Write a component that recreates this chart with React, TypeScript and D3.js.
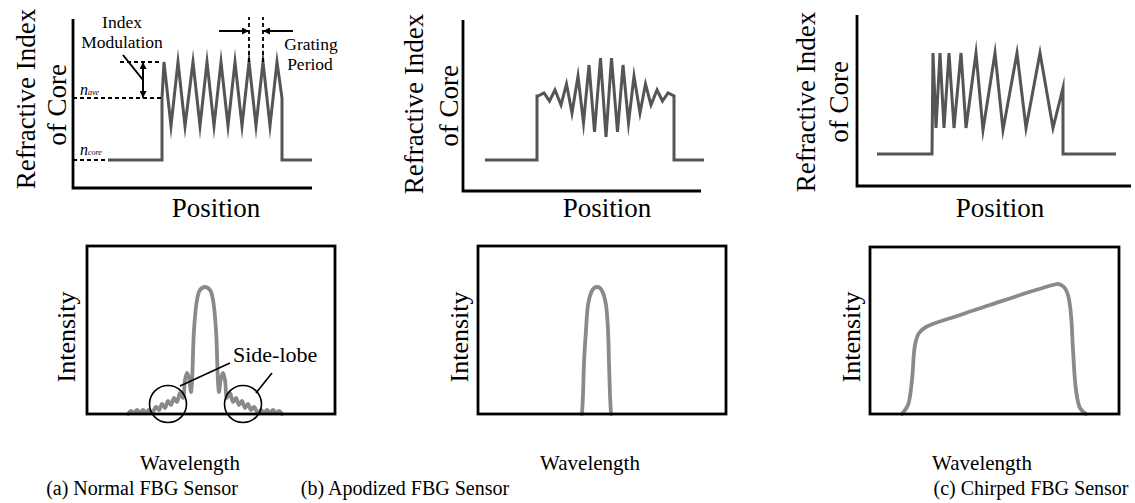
import React from 'react';
import * as d3 from 'd3';

// ---- top row: refractive index of core vs position ----
// (a) uniform grating
const normalPos = [35, 89, 89, 91, 98, 105, 112, 120, 127, 134, 141, 148, 155, 162, 169, 176, 183, 190, 197, 204, 209, 209, 239];
const normalIdx = [28, 28, 90, 126, 62, 126, 62, 126, 62, 126, 62, 126, 62, 126, 62, 126, 62, 126, 62, 126, 90, 28, 28];
// (b) apodized grating
const apodPos = [22, 74, 74, 75, 81, 86.5, 92, 98, 103.5, 109, 115, 120.5, 126, 131.5, 137.5, 143, 148.5, 154.5, 160, 165.5, 171, 177, 182.5, 188, 194, 199.5, 205, 211, 211, 241];
const apodIdx = [31, 31, 95, 95, 98, 90, 101, 86, 107, 78, 115, 68, 126, 59, 133, 54, 133, 59, 126, 68, 115, 78, 107, 86, 101, 90, 98, 95, 31, 31];
// (c) chirped grating
const chirpPos = [20, 75, 76, 79, 83, 87, 92, 97, 104, 109, 119, 126, 138, 146, 160, 169, 183, 196, 206, 206, 259];
const chirpIdx = [32, 32, 133, 58, 133, 58, 133, 58, 133, 58, 133, 56, 133, 56, 133, 58, 133, 58, 98, 32, 32];

// reference levels in panel (a)
const nCore = 28;
const nAve = 90;
const nPeak = 126;
const periodMarks = [176, 190];

// ---- bottom row: reflected intensity vs wavelength ----
const normalWl = [41, 44, 47, 50, 53, 56, 59, 62, 65, 69, 72, 75, 78, 81, 84, 87, 90, 93, 96, 98, 100, 102, 104, 105, 107, 110, 113, 118, 123, 126, 129, 131, 132, 134, 136, 138, 140, 143, 146, 149, 152, 155, 158, 161, 164, 167, 171, 174, 177, 180, 183, 186, 189, 192, 195];
const normalInt = [0, 3, 1, 4, 1, 4, 1, 4, 1, 7, 4, 10, 6, 13, 9, 16, 12, 21, 16, 34, 41, 36, 22, 32, 84, 114, 124, 127, 124, 114, 84, 32, 22, 36, 41, 34, 16, 21, 12, 16, 9, 13, 6, 10, 4, 7, 1, 4, 1, 4, 1, 4, 1, 3, 0];
const apodWl = [104, 105, 106, 108, 110, 113, 116, 119, 122, 125, 128, 130, 131, 132, 133];
const apodInt = [0, 19, 51, 84, 109, 121, 126, 127, 126, 121, 109, 84, 51, 19, 0];
const chirpWl = [32, 38, 42, 45, 49, 56, 90, 120, 150, 183, 188, 194, 198, 201, 203, 206, 210, 216];
const chirpInt = [0, 9, 34, 69, 81, 87, 99, 109, 119, 129, 130, 127, 119, 99, 64, 24, 6, 0];

// side-lobe circles (wavelength, intensity)
const lobeCircles = [[81, 10], [156, 10]];

const captions = ['(a) Normal FBG Sensor', '(b) Apodized FBG Sensor', '(c) Chirped FBG Sensor'];

const FONT = "'Liberation Serif', 'Times New Roman', Times, 'DejaVu Serif', serif";
const INK = '#555';
const SPEC = '#8a8a8a';

const zip = (a: number[], b: number[]) => a.map((v, i) => [v, b[i]] as [number, number]);

const App: React.FC = () => {
  const tops = [
    { ox: 73, oy: 188, w: 239, h: 169, pos: normalPos, idx: normalIdx, label: [35, 66, 99, 105], posX: 216 },
    { ox: 463, oy: 191, w: 238, h: 171, pos: apodPos, idx: apodIdx, label: [423, 458, 104, 106], posX: 607 },
    { ox: 857, oy: 186, w: 274, h: 171, pos: chirpPos, idx: chirpIdx, label: [815, 848, 102, 102], posX: 1000 },
  ].map(p => ({
    ...p,
    x: d3.scaleLinear().domain([0, p.w]).range([p.ox, p.ox + p.w]),
    y: d3.scaleLinear().domain([0, p.h]).range([p.oy, p.oy - p.h]),
  }));

  const boxes = [
    { x0: 87, y0: 414, w: 248, h: 168, wl: normalWl, it: normalInt, labX: 75, wlX: 190, capX: 142 },
    { x0: 478, y0: 414, w: 248, h: 168, wl: apodWl, it: apodInt, labX: 468, wlX: 590, capX: 405 },
    { x0: 870, y0: 414, w: 249, h: 167, wl: chirpWl, it: chirpInt, labX: 860, wlX: 982, capX: 1031 },
  ].map(b => ({
    ...b,
    x: d3.scaleLinear().domain([0, b.w]).range([b.x0, b.x0 + b.w]),
    y: d3.scaleLinear().domain([0, b.h]).range([b.y0, b.y0 - b.h]),
  }));

  const a = tops[0];
  const ba = boxes[0];

  return (
    <svg width={1135} height={503} style={{ position: 'absolute', left: 0, top: 0, background: '#fff', fontFamily: FONT }}>
      <defs>
        <marker id="ah" viewBox="0 0 10 10" refX="10" refY="5" markerUnits="userSpaceOnUse"
          markerWidth="8" markerHeight="7" orient="auto-start-reverse">
          <path d="M0,0 L10,5 L0,10 z" fill="#000" />
        </marker>
      </defs>

      {tops.map((p, i) => {
        const line = d3.line<[number, number]>().x(d => p.x(d[0])).y(d => p.y(d[1]));
        return (
          <g key={'t' + i}>
            <path d={`M${p.x(0)},${p.y(p.h)}V${p.y(0)}H${p.x(p.w)}`} fill="none" stroke="#000" strokeWidth={2.8} />
            <path d={line(zip(p.pos, p.idx)) || ''} fill="none" stroke={INK} strokeWidth={3} strokeLinejoin="miter" strokeMiterlimit={10} />
            <text transform={`translate(${p.label[0]},${p.label[2]}) rotate(-90)`} textAnchor="middle" fontSize={27}>Refractive Index</text>
            <text transform={`translate(${p.label[1]},${p.label[3]}) rotate(-90)`} textAnchor="middle" fontSize={27}>of Core</text>
            <text x={p.posX} y={217} textAnchor="middle" fontSize={27}>Position</text>
          </g>
        );
      })}

      {/* annotations on (a) */}
      <g stroke="#000" strokeWidth={1.8} strokeDasharray="4 3" fill="none">
        <line x1={a.x(0)} x2={a.x(89)} y1={a.y(nAve)} y2={a.y(nAve)} />
        <line x1={a.x(0)} x2={a.x(35)} y1={a.y(nCore)} y2={a.y(nCore)} />
        <line x1={a.x(47)} x2={a.x(89)} y1={a.y(nPeak)} y2={a.y(nPeak)} />
        {periodMarks.map(m => (
          <line key={m} x1={a.x(m)} x2={a.x(m)} y1={a.y(nPeak)} y2={a.y(171)} />
        ))}
      </g>
      <g stroke="#000" strokeWidth={2} fill="none">
        <line x1={a.x(70)} x2={a.x(70)} y1={a.y(108)} y2={a.y(nPeak)} markerEnd="url(#ah)" />
        <line x1={a.x(70)} x2={a.x(70)} y1={a.y(108)} y2={a.y(nAve)} markerEnd="url(#ah)" />
        <line x1={a.x(50)} x2={a.x(70)} y1={a.y(133)} y2={a.y(108)} />
        <line x1={a.x(146)} x2={a.x(periodMarks[0])} y1={a.y(157)} y2={a.y(157)} markerEnd="url(#ah)" />
        <line x1={a.x(220)} x2={a.x(periodMarks[1])} y1={a.y(157)} y2={a.y(157)} markerEnd="url(#ah)" />
      </g>
      <g fontSize={17.5} textAnchor="middle">
        <text x={122} y={28}>Index</text>
        <text x={122} y={48}>Modulation</text>
        <text x={311} y={50}>Grating</text>
        <text x={310} y={70}>Period</text>
      </g>
      <text x={a.x(7)} y={a.y(93)} fontStyle="italic" fontSize={16}>n<tspan fontSize={8}>ave</tspan></text>
      <text x={a.x(7)} y={a.y(33)} fontStyle="italic" fontSize={16}>n<tspan fontSize={8}>core</tspan></text>

      {boxes.map((b, i) => {
        const line = d3.line<[number, number]>().x(d => b.x(d[0])).y(d => b.y(d[1])).curve(d3.curveCatmullRom.alpha(0.5));
        return (
          <g key={'b' + i}>
            <path d={line(zip(b.wl, b.it)) || ''} fill="none" stroke={SPEC} strokeWidth={3.8} strokeLinecap="round" />
            <rect x={b.x(0)} y={b.y(b.h)} width={b.x(b.w) - b.x(0)} height={b.y(0) - b.y(b.h)} fill="none" stroke="#000" strokeWidth={2.8} />
            <text transform={`translate(${b.labX},337) rotate(-90)`} textAnchor="middle" fontSize={26}>Intensity</text>
            <text x={b.wlX} y={470} textAnchor="middle" fontSize={21}>Wavelength</text>
            <text x={b.capX} y={495} textAnchor="middle" fontSize={20}>{captions[i]}</text>
          </g>
        );
      })}

      {/* side-lobe callouts on (a) */}
      <g stroke="#000" strokeWidth={1.6} fill="none">
        {lobeCircles.map(([cx, cy], i) => (
          <circle key={i} cx={ba.x(cx)} cy={ba.y(cy)} r={18.5} />
        ))}
        <line x1={ba.x(93)} y1={ba.y(28)} x2={ba.x(143)} y2={ba.y(51)} />
        <line x1={ba.x(169)} y1={ba.y(21)} x2={ba.x(185)} y2={ba.y(41)} />
      </g>
      <text x={ba.x(146)} y={ba.y(52)} fontSize={22}>Side-lobe</text>
    </svg>
  );
};

export default App;
